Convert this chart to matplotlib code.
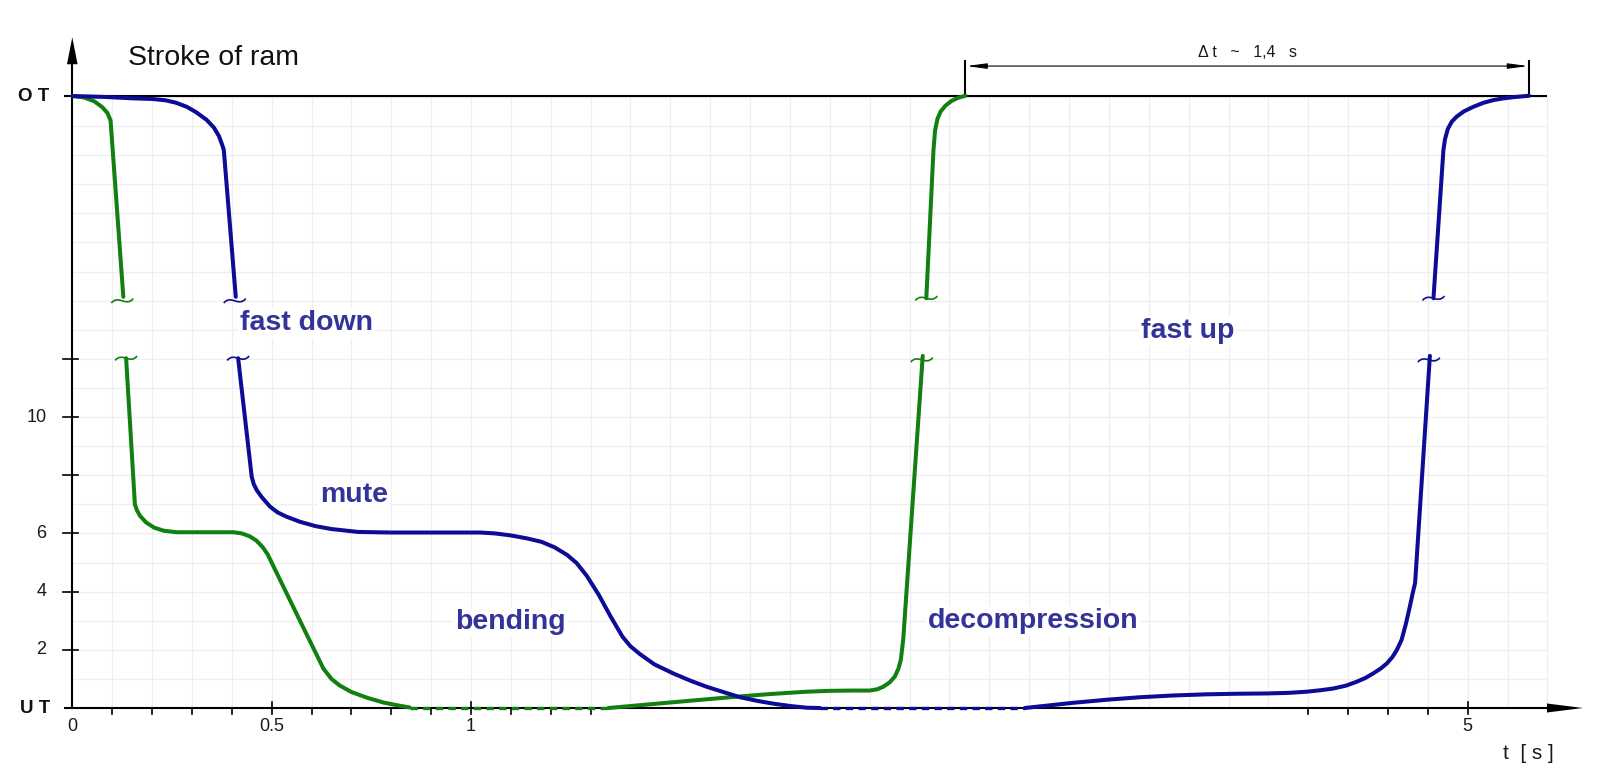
import matplotlib
matplotlib.use("Agg")
import matplotlib.pyplot as plt
from matplotlib.path import Path
from matplotlib.patches import PathPatch

plt.rcParams['font.family'] = ['Liberation Sans', 'DejaVu Sans']

# ---------------- data (x: time axis position, y: stroke units; OT = top) ----------------
OT = 21.03
UT = 0.0

# green curve
green_top_x = [0.0, 0.03, 0.055, 0.075, 0.088, 0.096, 0.128]
green_top_y = [21.03, 20.98, 20.85, 20.65, 20.45, 20.19, 14.13]
green_down_x = [0.135, 0.157, 0.162, 0.170, 0.185, 0.205, 0.230, 0.262, 0.404, 0.425, 0.445, 0.462,
                0.478, 0.490, 0.571, 0.630, 0.650, 0.670, 0.700, 0.740, 0.780, 0.820, 0.846]
green_down_y = [12.02, 7.00, 6.80, 6.60, 6.38, 6.20, 6.09, 6.04, 6.04, 6.00, 5.90, 5.75,
                5.52, 5.28, 3.00, 1.35, 1.00, 0.78, 0.55, 0.35, 0.19, 0.08, 0.02]
green_dash_x = [0.846, 1.345]
green_dash_y = [0.0, 0.0]
green_rise_x = [1.345, 1.50, 1.65, 1.75, 1.842, 1.90, 1.96, 2.0, 2.018, 2.034, 2.05, 2.063, 2.072,
                2.078, 2.084, 2.133]
green_rise_y = [0.0, 0.19, 0.37, 0.48, 0.56, 0.59, 0.60, 0.60, 0.64, 0.73, 0.88, 1.08, 1.35,
                1.65, 2.34, 12.1]
green_up_x = [2.142, 2.160, 2.164, 2.170, 2.178, 2.190, 2.205, 2.222, 2.240]
green_up_y = [14.08, 19.18, 19.85, 20.25, 20.50, 20.70, 20.86, 20.97, 21.04]

# blue curve
blue_top_x = [0.0, 0.08, 0.152, 0.20, 0.235, 0.26, 0.287, 0.31, 0.337, 0.355, 0.368, 0.376, 0.380, 0.410]
blue_top_y = [21.03, 21.0, 20.95, 20.93, 20.88, 20.80, 20.66, 20.48, 20.21, 19.95, 19.65, 19.35, 19.18, 14.13]
blue_down_x = [0.416, 0.450, 0.455, 0.4625, 0.475, 0.496, 0.515, 0.538, 0.571, 0.61, 0.65, 0.717, 0.80,
               1.023, 1.06, 1.10, 1.14, 1.177, 1.21, 1.241, 1.265, 1.29, 1.32, 1.35, 1.38, 1.40,
               1.424, 1.46, 1.507, 1.55, 1.591, 1.635, 1.675, 1.72, 1.758, 1.80, 1.842, 1.875]
blue_down_y = [12.02, 7.95, 7.70, 7.49, 7.25, 6.92, 6.72, 6.57, 6.40, 6.25, 6.15, 6.05, 6.03,
               6.03, 6.00, 5.93, 5.83, 5.71, 5.52, 5.26, 4.98, 4.55, 3.90, 3.15, 2.45, 2.12,
               1.85, 1.50, 1.19, 0.94, 0.73, 0.54, 0.37, 0.24, 0.15, 0.07, 0.01, 0.0]
blue_dash_x = [1.875, 2.389]
blue_dash_y = [0.0, 0.0]
blue_rise_x = [2.389, 2.45, 2.511, 2.60, 2.678, 2.76, 2.845, 2.92, 2.996, 3.05, 3.096, 3.13, 3.163,
               3.195, 3.221, 3.243, 3.263, 3.282, 3.297, 3.311, 3.322, 3.334, 3.345, 3.355, 3.362,
               3.368, 3.405]
blue_rise_y = [0.0, 0.09, 0.18, 0.29, 0.37, 0.43, 0.47, 0.49, 0.50, 0.52, 0.56, 0.61, 0.67,
               0.77, 0.90, 1.03, 1.19, 1.36, 1.53, 1.75, 1.99, 2.34, 2.90, 3.50, 3.95,
               4.30, 12.1]
blue_up_x = [3.414, 3.439, 3.443, 3.450, 3.460, 3.472, 3.490, 3.514, 3.540, 3.564, 3.590, 3.614, 3.654]
blue_up_y = [14.08, 19.18, 19.55, 19.90, 20.15, 20.32, 20.50, 20.66, 20.80, 20.89, 20.95, 20.99, 21.04]

# axis ticks / labels
y_tick_vals = [2, 4, 6, 8, 10, 12]
y_tick_labels = ["2", "4", "6", "", "10", ""]
x_minor_ticks = [0.1, 0.2, 0.3, 0.4, 0.6, 0.7, 0.8, 0.9, 1.1, 1.2, 1.3, 3.1, 3.2, 3.3, 3.4]
x_major_ticks = [0.5, 1.0, 3.5]
x_label_pos = [0.0, 0.5, 1.0, 3.5]
x_label_txt = ["0", "0.5", "1", "5"]

phase_labels = ["fast down", "mute", "bending", "decompression", "fast up"]
phase_x = [0.421, 0.621, 0.960, 2.146, 2.680]
phase_y = [12.99, 7.08, 2.73, 2.75, 12.70]

# ---------------- figure ----------------
W, H = 1600, 777
fig = plt.figure(figsize=(W / 100, H / 100), dpi=100)
ax = fig.add_axes([0, 0, 1, 1])
XL = (-0.1813, 3.8317)
YL = (-2.371, 24.33)
ax.set_xlim(*XL)
ax.set_ylim(*YL)
ax.axis('off')
PX = (XL[1] - XL[0]) / W   # data per pixel, x
PY = (YL[1] - YL[0]) / H   # data per pixel, y

GREEN = '#118011'
BLUE = '#0c0c96'
TXT = '#333399'
GRID = '#eeeeee'
LBL = '#1a1a1a'

# grid
gx = [0.1 * k for k in range(1, 38)]
ax.vlines(gx, 0, OT, colors=GRID, lw=0.9, zorder=1)
ax.hlines(list(range(1, 22)), 0, 3.7, colors=GRID, lw=0.9, zorder=1)

# OT line
ax.plot([-8 * PX, 3.698], [OT, OT], color='black', lw=1.5, zorder=2, solid_capstyle='butt')

# axes
y_tip = 23.05
ax.plot([0, 0], [0, y_tip - 20 * PY], color='black', lw=1.5, zorder=2)
ax.fill([0, -5.3 * PX, 5.3 * PX], [y_tip, y_tip - 27 * PY, y_tip - 27 * PY], color='black', zorder=2, lw=0)
x_tip = 3.789
ax.plot([-7 * PX, x_tip - 20 * PX], [0, 0], color='black', lw=1.5, zorder=2)
ax.fill([x_tip, x_tip - 36 * PX, x_tip - 36 * PX], [0, 4.5 * PY, -4.5 * PY], color='black', zorder=2, lw=0)

# y ticks
for v, lab in zip(y_tick_vals, y_tick_labels):
    ax.plot([-9 * PX, 6 * PX], [v, v], color='black', lw=1.2, zorder=2)
    if lab:
        ax.text(-26 * PX, v, lab, ha='right', va='center', fontsize=13, color=LBL)
ax.text(-23 * PX, OT, "O T", ha='right', va='center', fontsize=13.5, fontweight='bold', color='#111111')
ax.text(-22 * PX, UT, "U T", ha='right', va='center', fontsize=13.5, fontweight='bold', color='#111111')

# x ticks
for v in x_minor_ticks:
    ax.plot([v, v], [0, -6 * PY], color='black', lw=1.2, zorder=2)
for v in x_major_ticks:
    ax.plot([v, v], [6 * PY, -6 * PY], color='black', lw=1.2, zorder=2)
for v, lab in zip(x_label_pos, x_label_txt):
    ax.text(v, -18 * PY, lab, ha='center', va='center', fontsize=13, color=LBL)
ax.text(3.651, -45 * PY, "t  [ s ]", ha='center', va='center', fontsize=15, color=LBL)

ax.text(0.139, 22.1, "Stroke of ram", ha='left', va='baseline', fontsize=20.5, color='#111111')

# curves
kw = dict(lw=2.9, zorder=3, solid_capstyle='round', solid_joinstyle='round')
for xs, ys in [(green_top_x, green_top_y), (green_down_x, green_down_y),
               (green_rise_x, green_rise_y), (green_up_x, green_up_y)]:
    ax.plot(xs, ys, color=GREEN, **kw)
for xs, ys in [(blue_top_x, blue_top_y), (blue_down_x, blue_down_y),
               (blue_rise_x, blue_rise_y), (blue_up_x, blue_up_y)]:
    ax.plot(xs, ys, color=BLUE, **kw)
ax.plot(green_dash_x, green_dash_y, color=GREEN, lw=2.4, dashes=(2.2, 1.6), zorder=3)
ax.plot(blue_dash_x, blue_dash_y, color=BLUE, lw=2.4, dashes=(2.2, 1.6), zorder=3)

# break markers (tilde) at the ends of the broken segments
def tilde(cx, cy, color):
    w, h = 11 * PX, 2.2 * PY
    verts = [(cx - w, cy - h), (cx - w / 3, cy + 3 * h), (cx + w / 3, cy - 3 * h), (cx + w, cy + h)]
    p = Path(verts, [Path.MOVETO, Path.CURVE4, Path.CURVE4, Path.CURVE4])
    ax.add_patch(PathPatch(p, fill=False, edgecolor=color, lw=1.2, zorder=3))

for xs, ys in [(green_top_x, green_top_y), (green_rise_x, green_rise_y)]:
    tilde(xs[-1] - 1 * PX, ys[-1] - 4 * PY, GREEN)
for xs, ys in [(green_down_x, green_down_y), (green_up_x, green_up_y)]:
    tilde(xs[0], ys[0], GREEN)
for xs, ys in [(blue_top_x, blue_top_y), (blue_rise_x, blue_rise_y)]:
    tilde(xs[-1] - 1 * PX, ys[-1] - 4 * PY, BLUE)
for xs, ys in [(blue_down_x, blue_down_y), (blue_up_x, blue_up_y)]:
    tilde(xs[0], ys[0], BLUE)

# phase labels
for lab, x, y in zip(phase_labels, phase_x, phase_y):
    ax.text(x, y, lab, ha='left', va='baseline', fontsize=20.5, fontweight='bold', color=TXT,
            zorder=4, bbox=dict(facecolor='white', edgecolor='none', pad=1.5))

# dimension line Δt between the two top arrival points
x1, x2 = green_up_x[-1], blue_up_x[-1]
y_dim = 22.06
for xv in (x1, x2):
    ax.plot([xv, xv], [OT, 22.24], color='black', lw=1.5, zorder=2)
ax.annotate('', xy=(x1 + 1 * PX, y_dim), xytext=(x2 - 1 * PX, y_dim),
            arrowprops=dict(arrowstyle='<|-|>,head_length=1.2,head_width=0.16', lw=0.8,
                            color='black', shrinkA=0, shrinkB=0, mutation_scale=10), zorder=2)
ax.text((x1 + x2) / 2, 22.52, "\u0394 t   ~   1,4   s", ha='center', va='center', fontsize=11.5, color=LBL)

fig.savefig("out.png", dpi=100)
